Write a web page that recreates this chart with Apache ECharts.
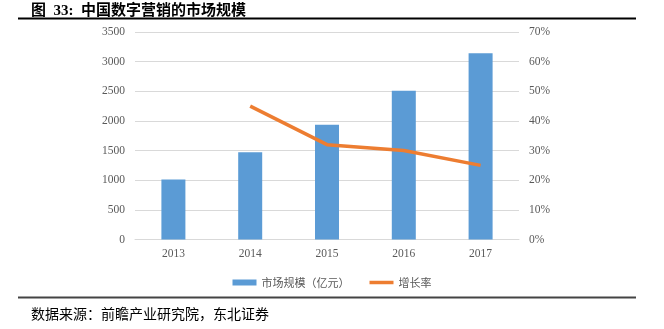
<!DOCTYPE html>
<html><head><meta charset="utf-8">
<script src="https://cdn.jsdelivr.net/npm/echarts@6/dist/echarts.min.js"></script>
<style>html,body{margin:0;padding:0;background:#fff}#c{width:664px;height:329px}</style>
</head><body><div id="c"></div>
<script>
var categories = ['2013', '2014', '2015', '2016', '2017'];
var marketSize = [1010, 1470, 1935, 2510, 3140];
var growthRate = [null, 45, 32, 30, 25];
var titleText = '图  33:  中国数字营销的市场规模';
var sourceText = '数据来源：前瞻产业研究院，东北证券';
var seriesNames = ['市场规模（亿元）', '增长率'];

var chart = echarts.init(document.getElementById('c'), null, {renderer: 'canvas'});
var axisFont = {fontFamily: '"Liberation Serif", "Times New Roman", serif', fontSize: 11.5, color: '#595959'};
chart.setOption({
  animation: false,
  backgroundColor: '#fff',
  title: [{
    text: titleText, left: 26, top: -1,
    textStyle: {fontFamily: '"Liberation Serif", "Noto Sans CJK SC", serif', fontSize: 15, fontWeight: 'bold', color: '#000'}
  }, {
    text: sourceText, left: 26, top: 302,
    textStyle: {fontFamily: '"Noto Sans CJK SC", sans-serif', fontSize: 14, fontWeight: 'normal', color: '#000'}
  }],
  graphic: [
    {type: 'line', shape: {x1: 18, y1: 18.5, x2: 636, y2: 18.5}, style: {stroke: '#000', lineWidth: 2}},
    {type: 'line', shape: {x1: 18, y1: 297.5, x2: 636, y2: 297.5}, style: {stroke: '#444', lineWidth: 2}}
  ],
  legend: {
    top: 272, left: 'center',
    itemGap: 20, itemWidth: 24, itemHeight: 6,
    textStyle: {fontFamily: '"Noto Sans CJK SC", sans-serif', fontSize: 11, color: '#595959'},
    data: [
      {name: seriesNames[0], icon: 'rect'},
      {name: seriesNames[1], icon: 'path://M0,0H24V3.5H0Z', itemStyle: {color: '#ED7D31'}}
    ]
  },
  grid: {left: 135, right: 145, top: 32, bottom: 89.5, containLabel: false},
  xAxis: {
    type: 'category', data: categories,
    axisLine: {show: true, lineStyle: {color: '#d9d9d9', width: 1}},
    axisTick: {show: false},
    axisLabel: Object.assign({margin: 8}, axisFont)
  },
  yAxis: [{
    type: 'value', min: 0, max: 3500, interval: 500,
    axisLine: {show: false}, axisTick: {show: false},
    splitLine: {lineStyle: {color: '#d9d9d9', width: 1}},
    axisLabel: Object.assign({margin: 10, formatter: function (v) { return String(v); }}, axisFont)
  }, {
    type: 'value', min: 0, max: 70, interval: 10,
    axisLine: {show: false}, axisTick: {show: false},
    splitLine: {show: false},
    axisLabel: Object.assign({margin: 10, formatter: '{value}%'}, axisFont)
  }],
  series: [{
    name: seriesNames[0], type: 'bar', data: marketSize, barWidth: 24,
    itemStyle: {color: '#5B9BD5'}
  }, {
    name: seriesNames[1], type: 'line', yAxisIndex: 1, data: growthRate,
    symbol: 'none', connectNulls: false,
    lineStyle: {color: '#ED7D31', width: 3.5},
    itemStyle: {color: '#ED7D31'}
  }]
});
</script></body></html>
